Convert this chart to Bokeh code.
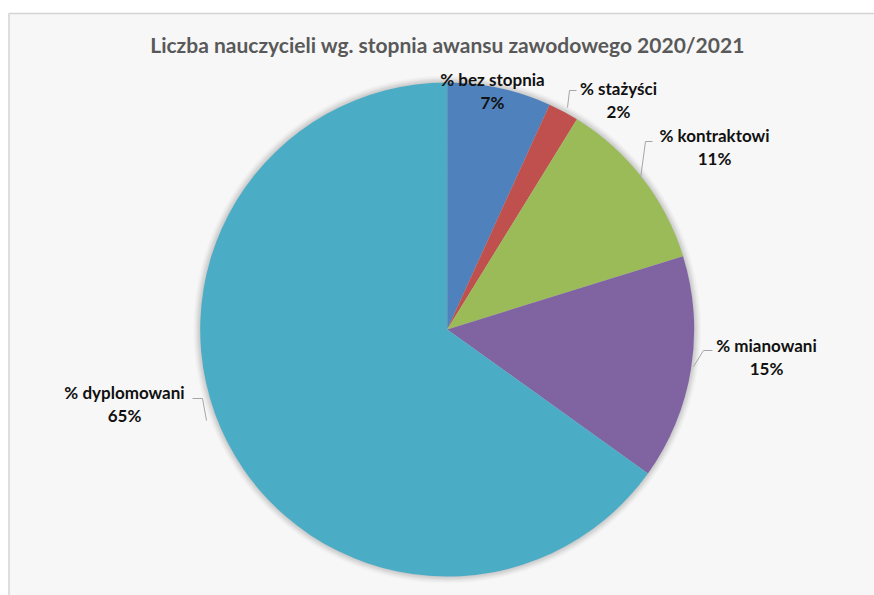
import math
from bokeh.plotting import figure
from bokeh.models import Range1d, ColumnDataSource
from bokeh.core.properties import value
from bokeh.embed import file_html
from bokeh.resources import INLINE

# ---- data ----
title = "Liczba nauczycieli wg. stopnia awansu zawodowego 2020/2021"
categories = ["% bez stopnia", "% stażyści", "% kontraktowi", "% mianowani", "% dyplomowani"]
shares = [6.8, 2.0, 11.4, 14.7, 65.1]

# ---- style / layout ----
colors = ["#4F81BD", "#C0504D", "#9BBB59", "#8064A2", "#4BACC6"]
W, H = 874, 595
OFF = 0  # observed page offset


def sx(x):
    return x - OFF


def sy(y):
    return (H + OFF) - y


cx, cy, R = 446.7, 329.0, 247.0
# label centres (screen px) for name line; percentage line is below
label_pos = [(492, 79), (618, 88), (714, 135), (766, 345), (124, 392)]
line_gap = 23
# leader lines (screen px), None where absent
leaders = [
    None,
    [(567, 107), (569, 90), (576, 90)],
    [(640, 178), (645, 141), (652, 141)],
    [(693, 366), (703, 350), (712, 350)],
    [(206, 420), (202, 398), (192, 398)],
]

p = figure(width=W, height=H, output_backend="svg", toolbar_location=None,
           x_range=Range1d(0, W), y_range=Range1d(0, H),
           x_axis_location=None, y_axis_location=None, min_border=0)
p.grid.visible = False
p.outline_line_color = None
p.background_fill_color = "white"
p.border_fill_color = "white"

# chart area frame
p.quad(left=[sx(8) + 0.5], right=[W + 10], bottom=[-10], top=[sy(13)],
       fill_color="#f7f7f7", line_color="#d4d4d4", line_width=1.5)

# soft shadow around pie
for i, a in enumerate([0.05, 0.05, 0.05, 0.04, 0.03, 0.02]):
    p.circle(x=[sx(cx)], y=[sy(cy)], radius=R + 1 + i * 1.2,
             fill_color="#404040", fill_alpha=a, line_color=None)

# wedges
total = sum(shares)
starts, ends = [], []
cum = 0.0
for v in shares:
    starts.append(math.pi / 2 - 2 * math.pi * cum / total)
    cum += v
    ends.append(math.pi / 2 - 2 * math.pi * cum / total)

src = ColumnDataSource(dict(start=starts, end=ends, color=colors,
                            x=[sx(cx)] * len(shares), y=[sy(cy)] * len(shares)))
p.wedge(x="x", y="y", radius=R, start_angle="start", end_angle="end",
        direction="clock", fill_color="color", line_color=None, source=src)

# leader lines
for ld in leaders:
    if ld:
        p.line(x=[sx(a) for a, b in ld], y=[sy(b) for a, b in ld],
               line_color="#a6a6a6", line_width=1)

# labels
pct = [f"{round(v)}%" for v in shares]
p.text(x=[sx(a) for a, b in label_pos], y=[sy(b) for a, b in label_pos], text=categories,
       text_font=value("Lato"), text_font_style="bold", text_font_size="17px",
       text_color="#111111", text_align="center", text_baseline="middle")
p.text(x=[sx(a) for a, b in label_pos], y=[sy(b + line_gap) for a, b in label_pos], text=pct,
       text_font=value("Lato"), text_font_style="bold", text_font_size="17px",
       text_color="#111111", text_align="center", text_baseline="middle")

# title
p.text(x=[sx(447)], y=[sy(44)], text=[title],
       text_font=value("Lato"), text_font_style="bold", text_font_size="21px",
       text_color="#595959", text_align="center", text_baseline="middle")

open("out.html", "w").write(file_html(p, INLINE))
